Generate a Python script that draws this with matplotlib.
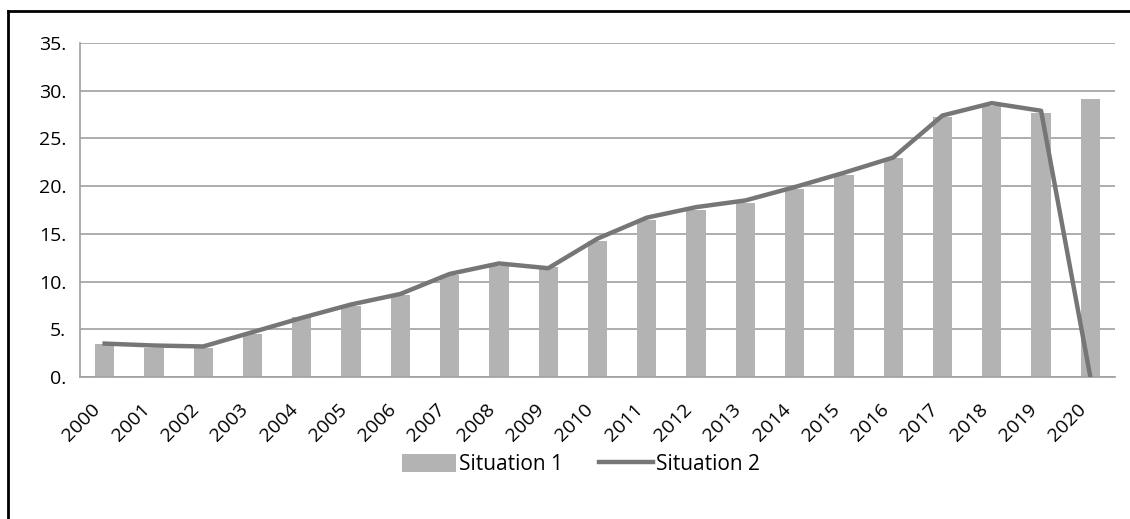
import numpy as np
import matplotlib.pyplot as plt
from matplotlib.lines import Line2D
from matplotlib.transforms import ScaledTranslation

years = [str(y) for y in range(2000, 2021)]
situation_1 = [3.5, 3.0, 3.0, 4.5, 6.3, 7.4, 8.6, 10.7, 11.6, 11.5, 14.3,
               16.5, 17.5, 18.2, 19.7, 21.2, 22.9, 27.2, 28.4, 27.7, 29.1]
situation_2 = [3.5, 3.3, 3.2, 4.7, 6.2, 7.6, 8.7, 10.8, 11.9, 11.4, 14.5,
               16.7, 17.8, 18.5, 19.9, 21.4, 23.0, 27.4, 28.7, 27.9, 0.0]
y_ticks = [0, 5, 10, 15, 20, 25, 30, 35]

plt.rcParams['font.family'] = ['Open Sans', 'DejaVu Sans']

fig = plt.figure(figsize=(11.3, 5.19), dpi=100)
ax = fig.add_axes([80 / 1130, 1 - 377 / 519, 1035 / 1130, 334 / 519])

x = np.arange(len(years))
bars = ax.bar(x, situation_1, width=0.39, color='#b3b3b3', label='Situation 1', zorder=2)
line, = ax.plot(x, situation_2, color='#767676', linewidth=3.2, label='Situation 2', zorder=3)

ax.set_xlim(-0.5, len(years) - 0.5)
ax.set_ylim(0, 35)
ax.set_yticks(y_ticks)
ax.set_yticklabels([f'{v}.' for v in y_ticks], fontsize=14)
ax.set_xticks(x)
ax.set_xticklabels(years, rotation=45, ha='right', va='center', rotation_mode='anchor', fontsize=14)
ax.tick_params(axis='y', length=0, pad=10)
ax.tick_params(axis='x', length=0, pad=17)

# nudge rotated year labels a bit left/down
offset = ScaledTranslation(-7 / 100, -6 / 100, fig.dpi_scale_trans)
for lbl in ax.get_xticklabels():
    lbl.set_transform(lbl.get_transform() + offset)

ax.grid(axis='y', color='#a0a0a0', linewidth=1.2, zorder=0)
for s in ['top', 'right']:
    ax.spines[s].set_visible(False)
for s in ['left', 'bottom']:
    ax.spines[s].set_color('#a0a0a0')
    ax.spines[s].set_linewidth(1.2)

ax.legend([bars, line], ['Situation 1', 'Situation 2'], loc='center',
          bbox_to_anchor=(0.484, -0.262), ncol=2, frameon=False,
          fontsize=15, handlelength=2.6, handleheight=1.0, columnspacing=1.7,
          handletextpad=0.15)

# outer frame (left and top only)
fig.add_artist(Line2D([8 / 1130, 8 / 1130], [0, 1 - 11 / 519], color='black', linewidth=2,
                      transform=fig.transFigure))
fig.add_artist(Line2D([8 / 1130, 1], [1 - 11 / 519, 1 - 11 / 519], color='black', linewidth=2,
                      transform=fig.transFigure))

fig.savefig('out.png', dpi=100)
